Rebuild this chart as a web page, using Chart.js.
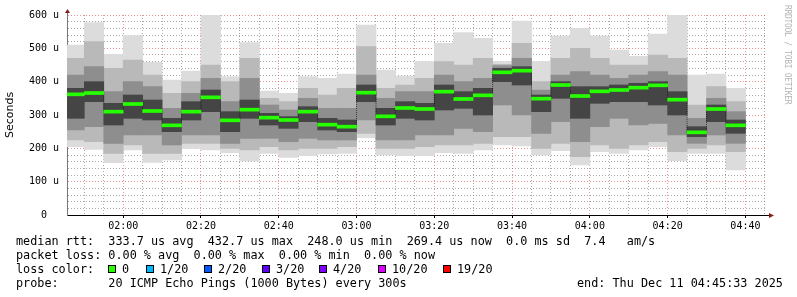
<!DOCTYPE html>
<html>
<head>
<meta charset="utf-8">
<script src="https://cdn.jsdelivr.net/npm/chart.js@4.4.1/dist/chart.umd.min.js"></script>
<style>
body{margin:0;background:#fff;}
#wrap{position:relative;width:797px;height:297px;overflow:hidden;}
#chart{position:absolute;left:0;top:0;}
.t{position:absolute;font-family:'DejaVu Sans Mono',monospace;font-size:11.8px;line-height:14px;white-space:pre;color:#000;}
.sq{position:absolute;top:265px;width:8px;height:8px;box-sizing:border-box;border:1px solid #000;}
#credit{position:absolute;left:783px;top:5px;writing-mode:vertical-rl;font-family:'DejaVu Sans Mono',monospace;font-size:8px;line-height:8px;letter-spacing:-0.3px;color:#b4b4b4;white-space:pre;}
</style>
</head>
<body>
<div id="wrap">
  <canvas id="chart" width="797" height="297"></canvas>
  <div id="credit">RRDTOOL / TOBI OETIKER</div>
  <div class="t" style="left:16px;top:234px">median rtt:  333.7 us avg  432.7 us max  248.0 us min  269.4 us now  0.0 ms sd  7.4   am/s</div>
  <div class="t" style="left:16px;top:248px">packet loss: 0.00 % avg  0.00 % max  0.00 % min  0.00 % now</div>
  <div class="t" style="left:16px;top:262px">loss color:</div>
  <div id="lossRow"></div>
  <div class="t" style="left:16px;top:276px">probe:       20 ICMP Echo Pings (1000 Bytes) every 300s</div>
  <div class="t" style="left:577px;top:276px">end: Thu Dec 11 04:45:33 2025</div>
</div>
<script>
// 5 minute slots (start time), 20 pings each, values in microseconds
const slots = ['01:45','01:50','01:55','02:00','02:05','02:10','02:15','02:20','02:25','02:30',
  '02:35','02:40','02:45','02:50','02:55','03:00','03:05','03:10','03:15','03:20',
  '03:25','03:30','03:35','03:40','03:45','03:50','03:55','04:00','04:05','04:10',
  '04:15','04:20','04:25','04:30','04:35'];
const pingMin = [205,197,157,195,158,165,200,195,187,162,185,173,178,183,185,232,180,178,178,187,185,195,210,207,180,193,150,190,185,195,205,163,185,185,135];
const ping10  = [225,220,185,210,185,185,215,215,200,195,205,195,200,200,205,245,200,200,205,210,210,215,235,235,200,215,175,210,200,210,220,190,200,210,190];
const ping25  = [255,265,215,240,240,210,240,240,215,230,230,220,230,225,225,285,225,225,240,240,260,250,330,300,245,280,220,265,290,270,275,240,215,240,215];
const ping40  = [290,340,270,290,285,250,285,310,250,290,270,260,280,255,250,340,270,290,285,315,320,300,400,390,310,350,290,335,340,340,330,300,235,280,245];
const medianRtt = [362,366,310,333,312,269,310,353,284,316,292,285,310,271,265,367,296,321,318,370,348,359,428,433,349,390,357,371,375,382,389,346,248,318,269];
const ping60  = [380,400,335,360,345,290,340,375,310,345,305,295,325,290,285,390,320,340,335,390,370,380,440,445,360,400,385,385,390,395,400,370,265,330,285];
const ping75  = [420,445,370,400,385,320,365,410,340,410,330,315,350,320,320,420,350,370,370,420,400,410,448,470,375,420,430,420,410,420,430,420,290,350,310];
const ping90  = [470,520,440,465,420,365,400,450,400,470,350,340,380,360,380,505,380,390,410,460,450,470,452,515,400,470,500,470,450,450,480,470,330,385,340];
const pingMax = [510,577,482,538,458,405,432,600,415,517,372,365,415,410,423,570,435,417,460,515,547,530,460,582,460,537,560,537,495,476,543,600,420,423,380];

const xTickLabels = ['02:00','02:20','02:40','03:00','03:20','03:40','04:00','04:20','04:40'];
const yTickValues = [0,100,200,300,400,500,600];
const yTickLabels = ['0  ','100 u','200 u','300 u','400 u','500 u','600 u'];
const lossLabels = ['0','1/20','2/20','3/20','4/20','10/20','19/20'];
const lossColors = ['#26ff00','#00b8ff','#0059ff','#5e00ff','#7e00ff','#dd00ff','#ff0000'];
const startTime = '01:45:33';
const endTime = '04:45:33';

// loss colour legend
const lossX = [108,146,204,262,319,378,443];
const row = document.getElementById('lossRow');
lossLabels.forEach((l,i)=>{
  const sq = document.createElement('div');
  sq.className='sq'; sq.style.left=lossX[i]+'px'; sq.style.background=lossColors[i];
  row.appendChild(sq);
  const tx = document.createElement('div');
  tx.className='t'; tx.style.left=(lossX[i]+14)+'px'; tx.style.top='262px'; tx.textContent=l;
  row.appendChild(tx);
});

function toMin(s){
  const p = s.split(':').map(Number);
  return p[0]*60 + p[1] + (p[2]||0)/60;
}
const xs = slots.map(s=>toMin(s)+2.5);
const xMajor = xTickLabels.map(toMin);
const xGrid = [];
for(let v=Math.ceil(toMin(startTime)/5)*5; v<=toMin(endTime); v+=5) xGrid.push(v);
const yGrid = [];
for(let v=0; v<=600; v+=20) yGrid.push(v);

function band(lo,hi){ return xs.map((x,i)=>({x:x, y:[lo[i],hi[i]]})); }

const minorCol = 'rgba(110,110,110,0.6)';
const majorCol = 'rgba(220,60,60,0.55)';

const axisArrows = {
  id:'axisArrows',
  afterDraw(chart){
    const {ctx, chartArea:a} = chart;
    ctx.save();
    ctx.strokeStyle='#000'; ctx.lineWidth=1;
    ctx.beginPath(); ctx.moveTo(a.right, a.bottom+0.5); ctx.lineTo(a.right+3, a.bottom+0.5); ctx.stroke();
    ctx.strokeStyle='#777';
    ctx.beginPath(); ctx.moveTo(a.left+0.5, a.top); ctx.lineTo(a.left+0.5, a.top-3); ctx.stroke();
    ctx.fillStyle='#8b1a1a';
    ctx.beginPath(); ctx.moveTo(a.left+0.5, a.top-6); ctx.lineTo(a.left-2, a.top-2); ctx.lineTo(a.left+3, a.top-2); ctx.closePath(); ctx.fill();
    ctx.beginPath(); ctx.moveTo(a.right+7, a.bottom+0.5); ctx.lineTo(a.right+2, a.bottom-2); ctx.lineTo(a.right+2, a.bottom+3); ctx.closePath(); ctx.fill();
    ctx.restore();
  }
};

new Chart(document.getElementById('chart'), {
  type:'bar',
  data:{
    datasets:[
      {data:band(pingMin,pingMax), backgroundColor:'#dcdcdc', order:5},
      {data:band(ping10,ping90), backgroundColor:'#b9b9b9', order:4},
      {data:band(ping25,ping75), backgroundColor:'#8e8e8e', order:3},
      {data:band(ping40,ping60), backgroundColor:'#454545', order:2},
      {type:'line', data:xs.map((x,i)=>({x:x,y:medianRtt[i]})), stepped:'middle', borderColor:'rgba(0,0,0,0.6)',
        borderWidth:1, borderDash:[1,1], pointRadius:0, fill:false, clip:0, order:1},
      {data:xs.map((x,i)=>({x:x, y:[medianRtt[i]-4.5, medianRtt[i]+4.5]})), backgroundColor:'#26ff00', order:0}
    ]
  },
  options:{
    responsive:false,
    animation:false,
    events:[],
    layout:{padding:{top:15,right:30,left:0,bottom:0}},
    datasets:{bar:{grouped:false, barPercentage:1, categoryPercentage:1, borderWidth:0, clip:0}},
    plugins:{legend:{display:false}, tooltip:{enabled:false}},
    scales:{
      x:{
        type:'linear', min:toMin(startTime), max:toMin(endTime), offset:false, z:1,
        afterBuildTicks:s=>{ s.ticks = xGrid.map(v=>({value:v})); },
        afterFit:s=>{ s.height = 82; },
        ticks:{autoSkip:false, maxRotation:0, padding:2, color:'#000',
          font:{family:'DejaVu Sans Mono', size:10},
          callback:v=>{ const i = xMajor.indexOf(v); return i<0 ? '' : xTickLabels[i]; }},
        grid:{offset:false, lineWidth:1, tickLength:3,
          color:c=>xMajor.includes(c.tick.value) ? majorCol : minorCol,
          tickColor:c=>xMajor.includes(c.tick.value) ? '#000' : 'rgba(0,0,0,0)'},
        border:{color:'#000', width:1, dash:[1,2]}
      },
      y:{
        min:0, max:600, z:1,
        afterBuildTicks:s=>{ s.ticks = yGrid.map(v=>({value:v})); },
        afterFit:s=>{ s.width = 67; },
        ticks:{autoSkip:false, padding:8, color:'#000',
          font:{family:'DejaVu Sans Mono', size:10},
          callback:v=>{ const i = yTickValues.indexOf(v); return i<0 ? '' : yTickLabels[i]; }},
        grid:{drawTicks:false, lineWidth:1,
          color:c=>yTickValues.includes(c.tick.value) ? majorCol : minorCol},
        border:{color:'#777', width:1, dash:[1,2]},
        title:{display:true, text:'Seconds', color:'#000', font:{family:'DejaVu Sans', size:11}, padding:{top:4,bottom:4}}
      }
    }
  },
  plugins:[axisArrows]
});
</script>
</body>
</html>
